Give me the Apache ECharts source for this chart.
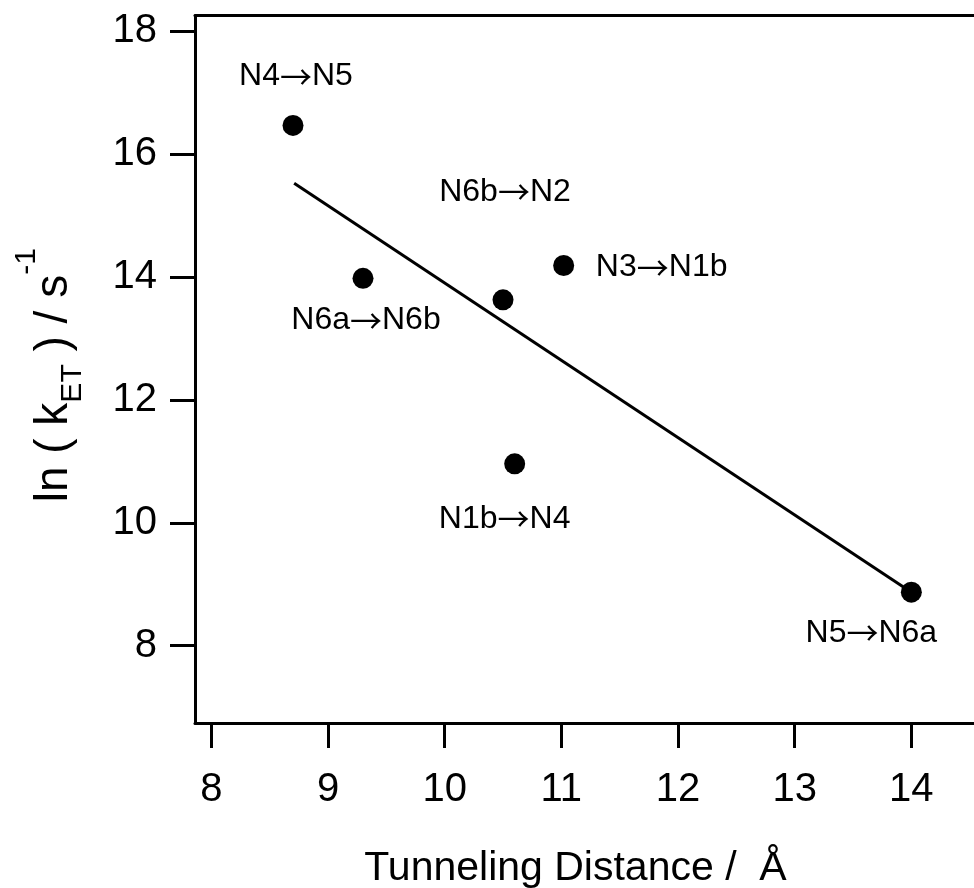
<!DOCTYPE html>
<html>
<head>
<meta charset="utf-8">
<script src="https://cdn.jsdelivr.net/npm/echarts@6/dist/echarts.min.js"></script>
<style>
  html, body { margin: 0; padding: 0; background: #fff; }
  #chart { width: 974px; height: 888px; }
</style>
</head>
<body>
<div id="chart"></div>
<script>
// data
const pairFrom = ['N4', 'N6a', 'N6b', 'N3', 'N1b', 'N5'];
const pairTo = ['N5', 'N6b', 'N2', 'N1b', 'N4', 'N6a'];
const distance = [8.70, 9.30, 10.50, 11.02, 10.60, 14.00];
const lnRate = [16.47, 13.98, 13.63, 14.19, 10.96, 8.87];

// fitted line end points
const fitX = [8.71, 14.00];
const fitY = [15.53, 8.87];

const xTicks = [8, 9, 10, 11, 12, 13, 14];
const yTicks = [8, 10, 12, 14, 16, 18];

// label placement (px offset from the dot centre)
const labelOffsets = [[3, -49], [3, 42], [2, -108], [98, 2], [-10, 55], [-40, 41]];

const FONT = '"Liberation Sans", Arial, Helvetica, sans-serif';
const ARROW_FONT = '"Noto Sans CJK SC", "DejaVu Sans", sans-serif';

const X_MIN = 7.86, X_MAX = 14.537;
const Y_MIN = 6.74, Y_MAX = 18.26;

const axisLine = { lineStyle: { color: '#000', width: 3 } };

const chart = echarts.init(document.getElementById('chart'));

chart.setOption({
	animation: false,
	textStyle: { fontFamily: FONT, color: '#000' },
	grid: { left: 195, right: 0, top: 15.5, height: 707.5, outerBoundsMode: 'none' },
	xAxis: [
		{
			type: 'value',
			min: X_MIN,
			max: X_MAX,
			name: 'Tunneling Distance /  Å',
			nameLocation: 'middle',
			nameGap: 125,
			nameTextStyle: { fontSize: 41, color: '#000', fontFamily: FONT, padding: [0, 18, 0, 0] },
			splitLine: { show: false },
			axisLine: axisLine,
			axisTick: { customValues: xTicks, length: 25, lineStyle: { color: '#000', width: 3 } },
			axisLabel: { customValues: xTicks, margin: 47, fontSize: 40, color: '#000', fontFamily: FONT },
		},
		{
			// top frame line only
			type: 'value',
			position: 'top',
			min: X_MIN,
			max: X_MAX,
			splitLine: { show: false },
			axisLine: axisLine,
			axisTick: { show: false },
			axisLabel: { show: false },
		},
	],
	yAxis: {
		type: 'value',
		min: Y_MIN,
		max: Y_MAX,
		name: '{m|ln ( k}{sub|ET}{m| ) / s}{sup|-1}',
		nameLocation: 'middle',
		nameRotate: 90,
		nameGap: 96,
		nameTextStyle: {
			color: '#000',
			fontFamily: FONT,
			padding: [0, 12, 0, 0],
			rich: {
				m: { fontSize: 46, lineHeight: 90, fontFamily: FONT, color: '#000' },
				sub: { fontSize: 30, padding: [37, 0, 0, 0], fontFamily: FONT, color: '#000' },
				sup: { fontSize: 30, padding: [0, 0, 55, 0], fontFamily: FONT, color: '#000' },
			},
		},
		splitLine: { show: false },
		axisLine: axisLine,
		axisTick: { customValues: yTicks, length: 25, lineStyle: { color: '#000', width: 3 } },
		axisLabel: { customValues: yTicks, margin: 38, fontSize: 40, color: '#000', fontFamily: FONT },
	},
	series: [
		{
			type: 'line',
			data: fitX.map((x, i) => [x, fitY[i]]),
			symbol: 'none',
			lineStyle: { color: '#000', width: 3 },
			z: 2,
		},
		{
			type: 'scatter',
			symbol: 'circle',
			symbolSize: 21,
			itemStyle: { color: '#000', opacity: 1 },
			z: 3,
			data: distance.map((x, i) => ({
				value: [x, lnRate[i]],
				name: pairFrom[i] + '→' + pairTo[i],
				label: {
					show: true,
					position: 'inside',
					offset: labelOffsets[i],
					formatter: '{t|' + pairFrom[i] + '}{a|→}{t|' + pairTo[i] + '}',
					rich: {
						t: { fontSize: 32, color: '#000', fontFamily: FONT },
						a: { fontSize: 32, color: '#000', fontFamily: ARROW_FONT },
					},
				},
			})),
		},
	],
});
</script>
</body>
</html>
